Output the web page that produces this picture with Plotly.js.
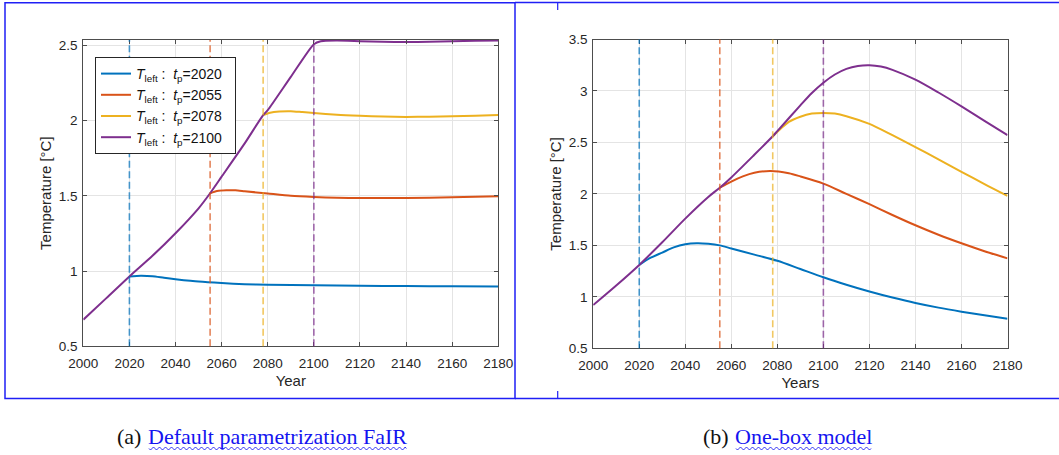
<!DOCTYPE html>
<html>
<head>
<meta charset="utf-8">
<script src="https://cdn.plot.ly/plotly-3.0.1.min.js"></script>
<style>
html,body{margin:0;padding:0;background:#fff;}
#chart{width:1059px;height:455px;}
</style>
</head>
<body>
<div id="chart"></div>
<script>
// ---------------- data ----------------
const seriesNames = ['2020','2055','2078','2100'];
const peakYears = [2020, 2055, 2078, 2100];
const colors = ['#0072BD','#D95319','#EDB120','#7E2F8E'];
const xTicks = [2000,2020,2040,2060,2080,2100,2120,2140,2160,2180];

// (a) FaIR default parametrization
const fairYearsP = [2000,2010,2020,2030,2040,2050,2055,2060,2070,2078,2080,2090,2100,2103,2110,2120,2130,2140,2150,2160,2170,2180];
const fairP      = [0.677,0.82,0.964,1.101,1.251,1.417,1.517,1.627,1.848,2.036,2.069,2.29,2.507,2.527,2.531,2.527,2.523,2.521,2.523,2.526,2.530,2.532];
const fairYearsB = [2020,2025,2030,2035,2040,2050,2060,2070,2080,2100,2120,2140,2160,2180];
const fairB      = [0.964,0.968,0.965,0.955,0.946,0.930,0.920,0.913,0.909,0.905,0.902,0.900,0.899,0.898];
const fairYearsO = [2055,2058,2062,2066,2070,2080,2090,2100,2110,2120,2140,2160,2180];
const fairO      = [1.517,1.532,1.537,1.536,1.530,1.515,1.500,1.492,1.487,1.485,1.485,1.490,1.497];
const fairYearsY = [2078,2081,2085,2090,2095,2100,2110,2120,2130,2140,2150,2160,2170,2180];
const fairY      = [2.036,2.052,2.060,2.062,2.056,2.050,2.038,2.031,2.026,2.024,2.025,2.028,2.032,2.037];

// (b) One-box model
const boxYearsP = [2000,2010,2020,2030,2040,2050,2055,2060,2070,2078,2080,2090,2095,2100,2105,2110,2115,2120,2125,2130,2140,2150,2160,2170,2180];
const boxP      = [0.92,1.11,1.31,1.53,1.76,1.97,2.06,2.16,2.38,2.56,2.61,2.86,2.98,3.08,3.16,3.215,3.243,3.25,3.237,3.205,3.11,2.985,2.85,2.71,2.57];
const boxYearsB = [2020,2025,2030,2035,2040,2045,2050,2055,2060,2070,2080,2090,2100,2110,2120,2130,2140,2150,2160,2170,2180];
const boxB      = [1.31,1.38,1.43,1.48,1.51,1.52,1.515,1.50,1.47,1.41,1.35,1.27,1.19,1.118,1.052,0.993,0.940,0.895,0.856,0.820,0.788];
const boxYearsO = [2055,2060,2065,2070,2077,2085,2090,2100,2110,2120,2130,2140,2150,2160,2170,2180];
const boxO      = [2.06,2.12,2.17,2.205,2.222,2.20,2.17,2.10,2.00,1.90,1.795,1.695,1.603,1.52,1.443,1.374];
const boxYearsY = [2078,2085,2090,2095,2100,2105,2110,2120,2130,2140,2150,2160,2170,2180];
const boxY      = [2.56,2.70,2.75,2.78,2.787,2.78,2.755,2.68,2.57,2.455,2.335,2.215,2.095,1.98];

const captionA = ['(a)', 'Default parametrization FaIR'];
const captionB = ['(b)', 'One-box model'];

// ---------------- figure ----------------
const W = 1059, H = 455;
const px = v => v / W;
const py = v => 1 - v / H;
const FONT = 'Liberation Sans, Arial, Helvetica, sans-serif';
const SERIF = 'Liberation Serif, Times New Roman, serif';
const axisCol = '#4d4d4d';
const gridCol = '#e4e4e4';

const fairSets = [[fairYearsB,fairB],[fairYearsO,fairO],[fairYearsY,fairY],[fairYearsP,fairP]];
const boxSets  = [[boxYearsB,boxB],[boxYearsO,boxO],[boxYearsY,boxY],[boxYearsP,boxP]];

const traces = [];
fairSets.forEach((s,i) => {
  traces.push({
    x: s[0], y: s[1], xaxis:'x', yaxis:'y', type:'scatter', mode:'lines',
    line:{color:colors[i], width:2, shape:'spline', smoothing:0.6},
    name:'<i>T</i><sub>left</sub> :  <i>t</i><sub>p</sub>=' + seriesNames[i] + '&nbsp;&nbsp;',
    showlegend:true, hoverinfo:'skip'
  });
});
boxSets.forEach((s,i) => {
  traces.push({
    x: s[0], y: s[1], xaxis:'x2', yaxis:'y2', type:'scatter', mode:'lines',
    line:{color:colors[i], width:2, shape:'spline', smoothing:0.8},
    showlegend:false, hoverinfo:'skip'
  });
});

function axisX(domain, anchor){
  return {
    domain: domain, anchor: anchor, range:[2000,2180], tickvals:xTicks,
    ticktext: xTicks.map(String), showgrid:true, gridcolor:gridCol, gridwidth:1,
    zeroline:false, showline:true, linecolor:axisCol, linewidth:1, mirror:'ticks',
    ticks:'inside', ticklen:4, tickcolor:axisCol, tickwidth:1, ticklabelstandoff:4,
    tickfont:{family:FONT, size:13.5, color:'#262626'}, fixedrange:true
  };
}
function axisY(domain, anchor, range, vals){
  return {
    domain: domain, anchor: anchor, range:range, tickvals:vals,
    ticktext: vals.map(String), showgrid:true, gridcolor:gridCol, gridwidth:1,
    zeroline:false, showline:true, linecolor:axisCol, linewidth:1, mirror:'ticks',
    ticks:'inside', ticklen:4, tickcolor:axisCol, tickwidth:1, ticklabelstandoff:2,
    tickfont:{family:FONT, size:13.5, color:'#262626'}, fixedrange:true
  };
}

const xa = axisX([px(83.3), px(498.3)], 'y');
xa.title = {text:'Year', font:{family:FONT, size:15, color:'#262626'}, standoff:5};
const ya = axisY([1-346.3/H, 1-40/H], 'x', [0.5, 2.535], [0.5,1,1.5,2,2.5]);
ya.title = {text:'Temperature [°C]', font:{family:FONT, size:15, color:'#262626'}, standoff:3};
const xb = axisX([px(593.2), px(1007.5)], 'y2');
xb.title = {text:'Years', font:{family:FONT, size:15, color:'#262626'}, standoff:5};
const yb = axisY([1-348.3/H, 1-39.5/H], 'x2', [0.5, 3.5], [0.5,1,1.5,2,2.5,3,3.5]);
yb.title = {text:'Temperature [°C]', font:{family:FONT, size:15, color:'#262626'}, standoff:3};

const shapes = [];
peakYears.forEach((t,i) => {
  [['x','y domain'],['x2','y2 domain']].forEach(r => {
    shapes.push({type:'line', xref:r[0], yref:r[1], x0:t, x1:t, y0:0, y1:1,
      line:{color:colors[i], width:1.6, dash:'7px,3.5px'}, opacity:0.7, layer:'above'});
  });
});
const BL = '#1f1ff5';
// panel frames
shapes.push({type:'rect', xref:'paper', yref:'paper', x0:px(5), x1:px(515), y0:py(398.5), y1:py(2.7), line:{color:BL,width:1.5}});
shapes.push({type:'line', xref:'paper', yref:'paper', x0:px(515), x1:px(1059), y0:py(2.5), y1:py(2.5), line:{color:BL,width:1.5}});
shapes.push({type:'line', xref:'paper', yref:'paper', x0:px(515), x1:px(1059), y0:py(398.5), y1:py(398.5), line:{color:BL,width:1.5}});
shapes.push({type:'line', xref:'paper', yref:'paper', x0:px(557.7), x1:px(557.7), y0:py(2.5), y1:py(10), line:{color:BL,width:1.2}});
shapes.push({type:'line', xref:'paper', yref:'paper', x0:px(557.7), x1:px(557.7), y0:py(391), y1:py(398.5), line:{color:BL,width:1.2}});

const capFont = {family:SERIF, size:22, color:'#111'};
const linkFont = {family:SERIF, size:22, color:'#1414f0'};
const annotations = [
  {xref:'paper', yref:'paper', x:px(116), y:py(436), xanchor:'left', yanchor:'middle', text:captionA[0], showarrow:false, font:capFont, borderpad:0},
  {xref:'paper', yref:'paper', x:px(147), y:py(436), xanchor:'left', yanchor:'middle', text:captionA[1], showarrow:false, font:linkFont, borderpad:0},
  {xref:'paper', yref:'paper', x:px(702), y:py(436), xanchor:'left', yanchor:'middle', text:captionB[0], showarrow:false, font:capFont, borderpad:0},
  {xref:'paper', yref:'paper', x:px(734), y:py(436), xanchor:'left', yanchor:'middle', text:captionB[1], showarrow:false, font:linkFont, borderpad:0}
];

const layout = {
  width:W, height:H, margin:{l:0,r:0,t:0,b:0,pad:0},
  paper_bgcolor:'#fff', plot_bgcolor:'#fff',
  xaxis:xa, yaxis:ya, xaxis2:xb, yaxis2:yb,
  showlegend:true,
  legend:{x:px(95), y:py(57), xanchor:'left', yanchor:'top',
    bgcolor:'#fff', bordercolor:'#262626', borderwidth:1,
    font:{family:FONT, size:14, color:'#111'}, tracegroupgap:0, itemwidth:30},
  shapes:shapes, annotations:annotations
};

Plotly.newPlot('chart', traces, layout, {displayModeBar:false, staticPlot:true}).then(gd => {
  // wavy underline below the linked caption words
  const chartRect = gd.getBoundingClientRect();
  const texts = gd.querySelectorAll('.annotation-text-g');
  const extra = [];
  [1,3].forEach(idx => {
    const g = texts[idx];
    if(!g) return;
    const t = g.querySelector('text');
    const r = t.getBoundingClientRect();
    const x0 = r.left - chartRect.left + 1, x1 = r.right - chartRect.left - 1;
    const yb0 = 448.5, amp = 3.0, half = 3.0;
    let d = 'M' + px(x0) + ',' + py(yb0);
    let k = 0;
    for(let x = x0; x < x1 - 0.5; x += half, k++){
      const nx = Math.min(x + half, x1);
      const cy = yb0 + (k % 2 === 0 ? amp : -amp);
      d += ' Q' + px((x + nx)/2) + ',' + py(cy) + ' ' + px(nx) + ',' + py(yb0);
    }
    extra.push({type:'path', xref:'paper', yref:'paper', path:d, line:{color:'#1414f0', width:0.9}});
  });
  return Plotly.relayout(gd, {shapes: shapes.concat(extra)});
});
</script>
</body>
</html>
